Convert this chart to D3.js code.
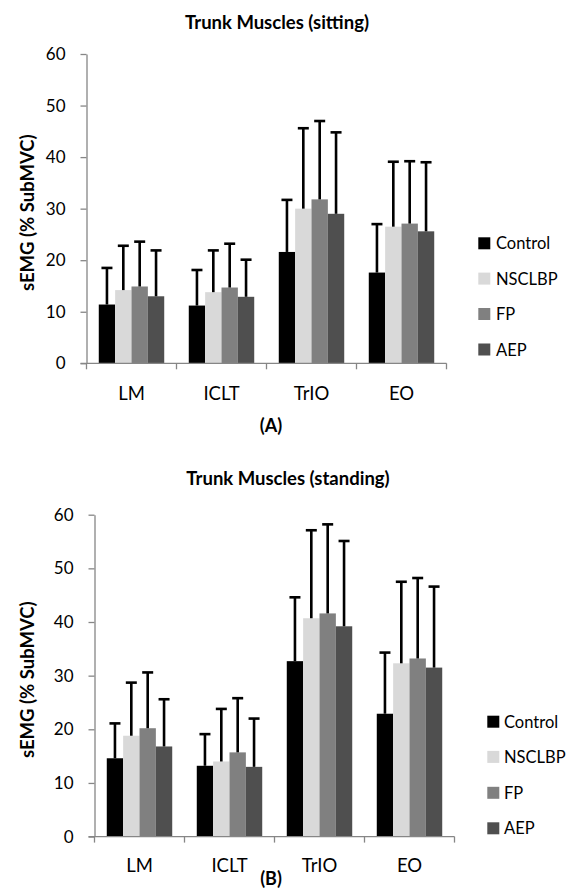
<!DOCTYPE html>
<html>
<head>
<meta charset="utf-8">
<script src="https://cdn.jsdelivr.net/npm/d3@7"></script>
<style>
  html, body { margin: 0; padding: 0; background: #fff; }
  svg { display: block; font-family: Lato, "Open Sans", sans-serif; }
</style>
</head>
<body>
<svg id="chart" width="567" height="892"></svg>
<script>
// ---- data ----
const categories = ["LM", "ICLT", "TrIO", "EO"];
const seriesNames = ["Control", "NSCLBP", "FP", "AEP"];
const seriesColors = ["#000000", "#d9d9d9", "#808080", "#4f4f4f"];
const yTicks = [0, 10, 20, 30, 40, 50, 60];

// Sitting (A): mean per series, across categories
const sittingControl = [11.4, 11.2, 21.6, 17.6];
const sittingNSCLBP  = [14.2, 13.8, 30.0, 26.5];
const sittingFP      = [14.9, 14.7, 31.8, 27.1];
const sittingAEP     = [13.0, 12.9, 29.0, 25.6];
// Sitting upper error-bar ends
const sittingControlErr = [18.5, 18.1, 31.7, 27.0];
const sittingNSCLBPErr  = [22.8, 21.9, 45.6, 39.1];
const sittingFPErr      = [23.6, 23.2, 47.0, 39.2];
const sittingAEPErr     = [21.9, 20.1, 44.8, 39.0];

// Standing (B)
const standingControl = [14.6, 13.2, 32.7, 22.9];
const standingNSCLBP  = [18.8, 14.0, 40.7, 32.3];
const standingFP      = [20.2, 15.7, 41.6, 33.2];
const standingAEP     = [16.8, 13.0, 39.2, 31.5];
const standingControlErr = [21.1, 19.1, 44.6, 34.3];
const standingNSCLBPErr  = [28.7, 23.8, 57.1, 47.5];
const standingFPErr      = [30.6, 25.8, 58.2, 48.2];
const standingAEPErr     = [25.6, 22.0, 55.1, 46.6];

const svg = d3.select("#chart");

function drawChart(cfg) {
  const { means, errs, x0, x1, yZero, yTop, title, titleX, titleY, label, labelY,
          catLabelY, legendX, legendTextX, legendRows } = cfg;
  const g = svg.append("g");

  const y = d3.scaleLinear().domain([0, 60]).range([yZero, yTop]);
  const x = d3.scaleBand().domain(categories).range([x0, x1]).paddingInner(0).paddingOuter(0);
  const bw = x.bandwidth();
  const gapRatio = 1.5; // Excel gap width 150%
  const barW = bw / (seriesNames.length + gapRatio);
  const xs = d3.scaleBand().domain(seriesNames)
    .range([barW * gapRatio / 2, bw - barW * gapRatio / 2]).padding(0);

  // title
  g.append("text").attr("x", titleX).attr("y", titleY)
    .attr("text-anchor", "middle").attr("dominant-baseline", "central")
    .attr("font-weight", "bold").attr("font-size", 18.5).attr("fill", "#000")
    .text(title);

  // bars
  const data = [];
  seriesNames.forEach((s, si) => {
    categories.forEach((c, ci) => {
      data.push({ s, c, si, v: means[si][ci], e: errs[si][ci] });
    });
  });

  g.selectAll("rect.bar").data(data).enter().append("rect")
    .attr("class", "bar")
    .attr("x", d => x(d.c) + xs(d.s))
    .attr("width", xs.bandwidth())
    .attr("y", d => y(d.v))
    .attr("height", d => y(0) - y(d.v))
    .attr("fill", d => seriesColors[d.si]);

  // error bars
  const capW = 11;
  const eb = g.selectAll("g.err").data(data).enter().append("g").attr("class", "err")
    .attr("stroke", "#000").attr("stroke-width", 2.6);
  eb.append("line")
    .attr("x1", d => x(d.c) + xs(d.s) + xs.bandwidth() / 2)
    .attr("x2", d => x(d.c) + xs(d.s) + xs.bandwidth() / 2)
    .attr("y1", d => y(d.v)).attr("y2", d => y(d.e));
  eb.append("line")
    .attr("x1", d => x(d.c) + xs(d.s) + xs.bandwidth() / 2 - capW / 2)
    .attr("x2", d => x(d.c) + xs(d.s) + xs.bandwidth() / 2 + capW / 2)
    .attr("y1", d => y(d.e)).attr("y2", d => y(d.e));

  // y axis
  const axisColor = "#868686";
  const yAxis = g.append("g").attr("transform", `translate(${x0},0)`)
    .call(d3.axisLeft(y).tickValues(yTicks).tickSize(6).tickSizeOuter(0).tickPadding(15));
  yAxis.select(".domain").attr("stroke", axisColor).attr("stroke-width", 1.3);
  yAxis.selectAll(".tick line").attr("stroke", axisColor).attr("stroke-width", 1.3);
  yAxis.selectAll(".tick text").attr("font-size", 17).attr("fill", "#000")
    .attr("font-family", "Lato, sans-serif");

  // x axis
  const xAxisG = g.append("g").attr("transform", `translate(0,${yZero})`);
  xAxisG.append("line").attr("x1", x0 - 6).attr("x2", x1).attr("y1", 0).attr("y2", 0)
    .attr("stroke", axisColor).attr("stroke-width", 1.3);
  const bounds = categories.map(c => x(c)).concat([x1]);
  xAxisG.selectAll("line.tk").data(bounds).enter().append("line").attr("class", "tk")
    .attr("x1", d => d).attr("x2", d => d).attr("y1", 0).attr("y2", 6)
    .attr("stroke", axisColor).attr("stroke-width", 1.3);
  g.selectAll("text.cat").data(categories).enter().append("text").attr("class", "cat")
    .attr("x", d => x(d) + bw / 2).attr("y", catLabelY)
    .attr("text-anchor", "middle").attr("dominant-baseline", "central")
    .attr("font-size", 18.5).attr("fill", "#000").text(d => d);

  // y axis label
  g.append("text")
    .attr("transform", `translate(27,${(yZero + yTop) / 2 + 4}) rotate(-90)`)
    .attr("text-anchor", "middle").attr("dominant-baseline", "central")
    .attr("font-weight", "bold").attr("font-size", 18.5).attr("fill", "#000")
    .text("sEMG (% SubMVC)");

  // panel label
  g.append("text").attr("x", 271).attr("y", labelY)
    .attr("text-anchor", "middle").attr("dominant-baseline", "central")
    .attr("font-weight", "bold").attr("font-size", 18).attr("fill", "#000")
    .text(label);

  // legend
  const lg = g.selectAll("g.leg").data(seriesNames).enter().append("g").attr("class", "leg")
    .attr("transform", (d, i) => `translate(0,${legendRows[i]})`);
  lg.append("rect").attr("x", legendX).attr("y", -6).attr("width", 12).attr("height", 12)
    .attr("fill", (d, i) => seriesColors[i]);
  lg.append("text").attr("x", legendTextX).attr("y", 0).attr("dominant-baseline", "central")
    .attr("font-size", 16.5).attr("fill", "#000").text(d => d);
}

drawChart({
  means: [sittingControl, sittingNSCLBP, sittingFP, sittingAEP],
  errs: [sittingControlErr, sittingNSCLBPErr, sittingFPErr, sittingAEPErr],
  x0: 86.5, x1: 446.5, yZero: 363.3, yTop: 54,
  title: "Trunk Muscles (sitting)", titleX: 277, titleY: 22,
  label: "(A)", labelY: 425, catLabelY: 393,
  legendX: 478.3, legendTextX: 496, legendRows: [243.3, 278.6, 314, 349.5]
});

drawChart({
  means: [standingControl, standingNSCLBP, standingFP, standingAEP],
  errs: [standingControlErr, standingNSCLBPErr, standingFPErr, standingAEPErr],
  x0: 94.5, x1: 454.5, yZero: 836.6, yTop: 514.7,
  title: "Trunk Muscles (standing)", titleX: 288, titleY: 478,
  label: "(B)", labelY: 878, catLabelY: 865,
  legendX: 487.3, legendTextX: 504, legendRows: [721.7, 756.9, 792.8, 828.3]
});
</script>
</body>
</html>
